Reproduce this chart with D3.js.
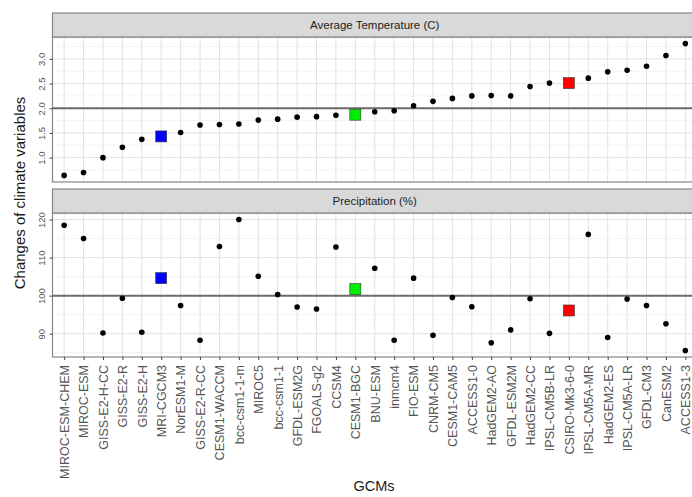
<!DOCTYPE html>
<html><head><meta charset="utf-8">
<script src="https://cdn.jsdelivr.net/npm/d3@7"></script>
<style>body{margin:0;background:#fff;} svg{display:block;font-family:"Liberation Sans",Arial,sans-serif;}</style>
</head><body>
<script>
const gcms = ["MIROC-ESM-CHEM","MIROC-ESM","GISS-E2-H-CC","GISS-E2-R","GISS-E2-H","MRI-CGCM3","NorESM1-M","GISS-E2-R-CC","CESM1-WACCM","bcc-csm1-1-m","MIROC5","bcc-csm1-1","GFDL-ESM2G","FGOALS-g2","CCSM4","CESM1-BGC","BNU-ESM","inmcm4","FIO-ESM","CNRM-CM5","CESM1-CAM5","ACCESS1-0","HadGEM2-AO","GFDL-ESM2M","HadGEM2-CC","IPSL-CM5B-LR","CSIRO-Mk3-6-0","IPSL-CM5A-MR","HadGEM2-ES","IPSL-CM5A-LR","GFDL-CM3","CanESM2","ACCESS1-3"];
const temperature = [0.64,0.70,1.00,1.21,1.37,1.43,1.51,1.66,1.67,1.68,1.76,1.78,1.82,1.83,1.86,1.87,1.93,1.95,2.05,2.14,2.20,2.25,2.26,2.25,2.44,2.51,2.51,2.61,2.74,2.77,2.85,3.07,3.31];
const precipitation = [118.5,115.0,90.2,99.3,90.4,104.6,97.4,88.3,112.9,120.0,105.1,100.3,97.0,96.5,112.8,101.7,107.2,88.3,104.6,89.6,99.5,97.1,87.6,91.0,99.2,90.1,96.1,116.1,89.0,99.1,97.4,92.6,85.6];
const highlighted = ["MRI-CGCM3","CESM1-BGC","CSIRO-Mk3-6-0"];
const highlightColors = ["#0000ff","#00ee00","#ff0000"];
const tempTicks = [1.0,1.5,2.0,2.5,3.0];
const precipTicks = [90,100,110,120];
const tempRef = 2.0, precipRef = 100;

const W = 692, H = 497;
const svg = d3.select("body").append("svg").attr("width", W).attr("height", H);
const left = 52.5, right = 697;
const x = d3.scalePoint().domain(gcms).range([left, right]).padding(0.6);

const panels = [
  {title:"Average Temperature (C)", values:temperature, ticks:tempTicks, ref:tempRef, strip:[13,37], box:[37,182], fmt:d3.format(".1f")},
  {title:"Precipitation (%)", values:precipitation, ticks:precipTicks, ref:precipRef, strip:[189,213], box:[213,357], fmt:d3.format("d")}
];

panels.forEach((p, pi) => {
  const [mn, mx] = d3.extent(p.values);
  const pad = (mx - mn) * 0.05;
  const y = d3.scaleLinear().domain([mn - pad, mx + pad]).range([p.box[1], p.box[0]]);
  const g = svg.append("g");
  g.append("rect").attr("x", left).attr("y", p.box[0]).attr("width", right-left).attr("height", p.box[1]-p.box[0]).attr("fill", "#fff");
  const step = p.ticks[1]-p.ticks[0];
  const minor = [];
  for (let v = p.ticks[0]-step/2; v <= y.domain()[1]; v += step) if (v >= y.domain()[0]) minor.push(v);
  g.selectAll(".mn").data(minor).join("line").attr("x1", left).attr("x2", right)
    .attr("y1", d=>y(d)).attr("y2", d=>y(d)).attr("stroke", "#f0f0f0").attr("stroke-width", 0.8);
  g.selectAll(".mj").data(p.ticks).join("line").attr("x1", left).attr("x2", right)
    .attr("y1", d=>y(d)).attr("y2", d=>y(d)).attr("stroke", "#e2e2e2").attr("stroke-width", 1);
  g.selectAll(".vx").data(gcms).join("line").attr("x1", d=>x(d)).attr("x2", d=>x(d))
    .attr("y1", p.box[0]).attr("y2", p.box[1]).attr("stroke", "#e2e2e2").attr("stroke-width", 1);
  g.append("line").attr("x1", left).attr("x2", right).attr("y1", y(p.ref)).attr("y2", y(p.ref))
    .attr("stroke", "#6b6b6b").attr("stroke-width", 2);
  const data = gcms.map((c,i)=>({c, v:p.values[i]}));
  g.selectAll(".pt").data(data.filter(d=>!highlighted.includes(d.c))).join("circle")
    .attr("cx", d=>x(d.c)).attr("cy", d=>y(d.v)).attr("r", 2.8).attr("fill", "#000");
  const s = 11;
  g.selectAll(".sq").data(data.filter(d=>highlighted.includes(d.c))).join("rect")
    .attr("x", d=>x(d.c)-s/2).attr("y", d=>y(d.v)-s/2).attr("width", s).attr("height", s)
    .attr("fill", d=>highlightColors[highlighted.indexOf(d.c)]).attr("stroke", "#333").attr("stroke-width", 0.6);
  g.append("rect").attr("x", left).attr("y", p.box[0]).attr("width", right-left).attr("height", p.box[1]-p.box[0])
    .attr("fill", "none").attr("stroke", "#858585").attr("stroke-width", 1.2);
  g.append("rect").attr("x", left).attr("y", p.strip[0]).attr("width", right-left).attr("height", p.strip[1]-p.strip[0])
    .attr("fill", "#d9d9d9").attr("stroke", "#858585").attr("stroke-width", 1.2);
  g.append("text").attr("x", (left+right)/2).attr("y", (p.strip[0]+p.strip[1])/2+4)
    .attr("text-anchor", "middle").attr("font-size", 11.5).attr("fill", "#222").text(p.title);
  const ax = g.append("g").attr("transform", `translate(${left},0)`)
    .call(d3.axisLeft(y).tickValues(p.ticks).tickFormat(p.fmt).tickSize(3).tickPadding(4));
  ax.select(".domain").remove();
  ax.selectAll(".tick line").attr("stroke", "#444");
  ax.selectAll(".tick text").attr("font-size", 9.5).attr("fill", "#555")
    .attr("transform", "rotate(-90)").attr("text-anchor", "middle").attr("x", 0).attr("dy", 0)
    .attr("y", -8);
  if (pi === 1) {
    const xa = g.append("g").attr("transform", `translate(0,${p.box[1]})`)
      .call(d3.axisBottom(x).tickSize(3).tickPadding(4));
    xa.select(".domain").remove();
    xa.selectAll(".tick line").attr("stroke", "#444");
    xa.selectAll(".tick text").attr("font-size", 12.5).attr("fill", "#555")
      .attr("transform", "rotate(-90)").attr("text-anchor", "end").attr("x", -8).attr("y", 0).attr("dy", "0.35em");
  }
});

svg.append("text").attr("x", 374).attr("y", 491).attr("text-anchor", "middle")
  .attr("font-size", 14.5).attr("fill", "#1a1a1a").text("GCMs");
svg.append("text").attr("transform", `translate(25,193) rotate(-90)`).attr("text-anchor", "middle")
  .attr("font-size", 15).attr("fill", "#1a1a1a").text("Changes of climate variables");
</script>
</body></html>
